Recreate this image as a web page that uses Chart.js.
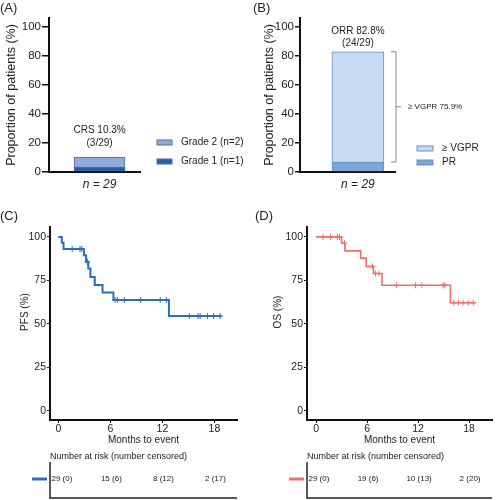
<!DOCTYPE html>
<html lang="en">
<head>
  <meta charset="UTF-8" />
  <title>CRS, response, PFS and OS</title>
  <script src="https://cdn.jsdelivr.net/npm/chart.js"></script>
  <style>
    body {
      margin: 0;
      background: #fff;
      font-family: 'Liberation Sans', Arial, sans-serif;
    }
    .panel {
      position: absolute;
    }
  </style>
</head>
<body>
  <canvas id="chartA" class="panel" style="left:0;top:0" width="248" height="200"></canvas>
  <canvas id="chartB" class="panel" style="left:248px;top:0" width="249" height="200"></canvas>
  <canvas id="chartC" class="panel" style="left:0;top:200px" width="248" height="300"></canvas>
  <canvas id="chartD" class="panel" style="left:248px;top:200px" width="249" height="300"></canvas>

  <script>
    // (A) cytokine release syndrome, stacked from the bottom
    const crsLabels = ['Grade 1 (n=1)', 'Grade 2 (n=2)'];
    const crsValues = [3.4, 6.9];
    const crsColors = ['#2c5ea8', '#8eaad8'];

    // (B) best response, stacked from the bottom
    const respLabels = ['PR', '\u2265 VGPR'];
    const respValues = [6.9, 75.9];
    const respColors = ['#80a6d8', '#c6dcf2'];

    const barTicks = [0, 20, 40, 60, 80, 100];

    // (C) progression-free survival (step points and censor marks)
    const pfsMonths = [0, 0.4, 0.6, 2.95, 3.2, 3.45, 3.7, 4.2, 5.1, 6.35, 12.75, 18.8];
    const pfsSurv = [100, 96.6, 93.1, 89.4, 85.7, 81.8, 77.0, 72.4, 68.0, 63.8, 54.5, 54.5];
    const pfsCensorMonths = [1.6, 2.5, 2.7, 3.35, 6.55, 6.8, 7.6, 9.5, 11.75, 12.45, 15.1, 16.1, 16.35, 17.2, 17.9, 18.65];
    const pfsCensorSurv = [93.1, 93.1, 93.1, 85.7, 63.8, 63.8, 63.8, 63.8, 63.8, 63.8, 54.5, 54.5, 54.5, 54.5, 54.5, 54.5];

    // (D) overall survival
    const osMonths = [0, 3.0, 3.4, 5.25, 5.9, 6.75, 7.75, 15.8, 18.8];
    const osSurv = [100, 96.4, 92.0, 87.8, 83.1, 79.0, 72.2, 62.2, 62.2];
    const osCensorMonths = [0.8, 1.7, 2.5, 2.75, 3.35, 6.6, 7.0, 7.4, 9.45, 11.7, 12.45, 14.95, 15.15, 16.2, 16.75, 17.3, 17.9, 18.5];
    const osCensorSurv = [100, 100, 100, 100, 96.4, 83.1, 79.0, 79.0, 72.2, 72.2, 72.2, 72.2, 72.2, 62.2, 62.2, 62.2, 62.2, 62.2];

    const kmTicksX = [0, 6, 12, 18];
    const kmTicksY = [0, 25, 50, 75, 100];

    // number at risk table
    const riskMonths = [0, 6, 12, 18];
    const pfsAtRisk = [29, 15, 8, 2];
    const pfsCensored = [0, 6, 12, 17];
    const osAtRisk = [29, 19, 10, 2];
    const osCensored = [0, 6, 13, 20];

    const pfsColor = '#2b6fb6';
    const osColor = '#ec6f6c';
    const axisColor = '#111';
    const FONT = "'Liberation Sans', Arial, sans-serif";

    Chart.defaults.font.family = FONT;
    Chart.defaults.color = '#222';

    function text(ctx, str, x, y, size, opts = {}) {
      ctx.save();
      ctx.font = `${opts.style || 'normal'} ${size}px ${FONT}`;
      ctx.fillStyle = opts.color || '#222';
      ctx.textAlign = opts.align || 'left';
      ctx.textBaseline = 'middle';
      if (opts.rotate) {
        ctx.translate(x, y);
        ctx.rotate(opts.rotate);
        ctx.fillText(str, 0, 0);
      } else {
        ctx.fillText(str, x, y);
      }
      ctx.restore();
    }

    function fixedTicks(values) {
      return scale => { scale.ticks = values.map(v => ({ value: v })); };
    }

    // ---------- bar panels ----------
    function barChart(id, labels, values, colors, opt) {
      return new Chart(document.getElementById(id), {
        type: 'bar',
        data: {
          datasets: labels.map((label, i) => ({
            label: label,
            data: [{ x: 0, y: values[i] }],
            backgroundColor: colors[i],
            borderColor: opt.outline,
            borderWidth: 1,
            barThickness: opt.barWidth
          }))
        },
        options: {
          responsive: false,
          animation: false,
          layout: { padding: { top: 18, right: opt.padRight, bottom: 0, left: 0 } },
          plugins: { legend: { display: false }, tooltip: { enabled: false } },
          scales: {
            x: {
              type: 'linear',
              stacked: true,
              offset: false,
              min: -1,
              max: opt.xMax,
              afterBuildTicks: fixedTicks([0]),
              grid: { display: false, drawTicks: false, offset: false },
              border: { color: axisColor, width: 2 },
              ticks: {
                callback: () => 'n = 29',
                font: { size: 12, style: 'italic' },
                padding: 5
              },
              afterFit: s => { s.height = 28; }
            },
            y: {
              stacked: true,
              min: 0,
              max: 106,
              afterBuildTicks: fixedTicks(barTicks),
              grid: { drawOnChartArea: false, tickLength: opt.tickLen, color: axisColor, lineWidth: 1.5 },
              border: { color: axisColor, width: 2 },
              ticks: { padding: 1, font: { size: 11.5 } },
              title: {
                display: true,
                text: 'Proportion of patients (%)',
                font: { size: 12.5 },
                padding: { top: opt.titlePad, bottom: 0 }
              },
              afterFit: s => { s.width = opt.yWidth; }
            }
          }
        },
        plugins: [{
          id: 'barNotes',
          afterDraw(chart) {
            const ctx = chart.ctx;
            const y = chart.scales.y;
            const bar = chart.getDatasetMeta(0).data[0];
            const total = values.reduce((a, b) => a + b, 0);
            const top = y.getPixelForValue(total);
            text(ctx, opt.panel, opt.panelX, 8.5, 13);
            text(ctx, opt.note[0], bar.x, top + opt.noteOffset[0], 10, { align: 'center' });
            text(ctx, opt.note[1], bar.x, top + opt.noteOffset[1], 10, { align: 'center' });

            // legend, top entry is the upper segment
            chart.data.datasets.slice().reverse().forEach((ds, i) => {
              const ly = opt.legendY + i * opt.legendGap;
              ctx.fillStyle = ds.backgroundColor;
              ctx.fillRect(opt.legendX, ly - 2.5, opt.swatchW, 5);
              ctx.strokeStyle = opt.outline;
              ctx.lineWidth = 1;
              ctx.strokeRect(opt.legendX, ly - 2.5, opt.swatchW, 5);
              text(ctx, ds.label, opt.legendX + opt.swatchW + 9, ly, 10);
            });

            if (opt.bracket) {
              const yTop = y.getPixelForValue(total);
              const yBot = y.getPixelForValue(values[0]);
              const bx = opt.bracket;
              ctx.save();
              ctx.strokeStyle = '#888';
              ctx.lineWidth = 1;
              ctx.beginPath();
              ctx.moveTo(bx - 5, yTop); ctx.lineTo(bx, yTop); ctx.lineTo(bx, yBot); ctx.lineTo(bx - 5, yBot);
              const ym = (yTop + yBot) / 2;
              ctx.moveTo(bx, ym); ctx.lineTo(bx + 5, ym);
              ctx.stroke();
              ctx.restore();
              text(ctx, '\u2265 VGPR 75.9%', bx + 12, ym, 8);
            }
          }
        }]
      });
    }

    barChart('chartA', crsLabels, crsValues, crsColors, {
      outline: '#4d6fa3', barWidth: 51, padRight: 108, xMax: 0.8, tickLen: 7,
      yWidth: 49, titlePad: 4.5, panel: '(A)', panelX: 0,
      note: ['CRS 10.3%', '(3/29)'], noteOffset: [-27, -14],
      legendX: 157, legendY: 142.5, legendGap: 19, swatchW: 15
    });

    barChart('chartB', respLabels, respValues, respColors, {
      outline: '#6a8fc2', barWidth: 52, padRight: 102, xMax: 0.64, tickLen: 5,
      yWidth: 52, titlePad: 14.5, panel: '(B)', panelX: 5,
      note: ['ORR 82.8%', '(24/29)'], noteOffset: [-20, -8],
      legendX: 169, legendY: 148.5, legendGap: 14, swatchW: 16,
      bracket: 148
    });

    // ---------- Kaplan-Meier panels ----------
    function kmChart(id, months, surv, cMonths, cSurv, atRisk, censored, opt) {
      return new Chart(document.getElementById(id), {
        type: 'line',
        data: {
          datasets: [
            {
              data: months.map((m, i) => ({ x: m, y: surv[i] })),
              stepped: true,
              borderColor: opt.color,
              borderWidth: opt.lineWidth,
              pointRadius: 0,
              fill: false
            },
            {
              type: 'scatter',
              data: cMonths.map((m, i) => ({ x: m, y: cSurv[i] })),
              pointStyle: 'cross',
              pointRadius: 3,
              borderColor: opt.color,
              borderWidth: 1,
              showLine: false
            }
          ]
        },
        options: {
          responsive: false,
          animation: false,
          layout: { padding: { top: 27, right: opt.padRight, bottom: 50, left: 0 } },
          plugins: { legend: { display: false }, tooltip: { enabled: false } },
          scales: {
            x: {
              type: 'linear',
              min: opt.xMin,
              max: opt.xMax,
              afterBuildTicks: fixedTicks(kmTicksX),
              grid: { drawOnChartArea: false, tickLength: 3, color: axisColor },
              border: { color: axisColor, width: 2 },
              ticks: { padding: 0, font: { size: 10.5 } },
              title: {
                display: true,
                text: 'Months to event',
                font: { size: 10 },
                padding: { top: 0, bottom: 4 }
              },
              afterFit: s => { s.height = 30; }
            },
            y: {
              min: -5.2,
              max: 105.7,
              afterBuildTicks: fixedTicks(kmTicksY),
              grid: { drawOnChartArea: false, tickLength: 3, color: axisColor },
              border: { color: axisColor, width: 2 },
              ticks: { padding: 1, font: { size: 10.5 } },
              afterFit: s => { s.width = opt.yWidth; }
            }
          }
        },
        plugins: [{
          id: 'riskTable',
          afterDraw(chart) {
            const ctx = chart.ctx;
            const area = chart.chartArea;
            const x = chart.scales.x;
            text(ctx, opt.panel, opt.panelX, 16, 13);
            text(ctx, opt.yTitle, opt.yTitleX, 112, 10, { align: 'center', rotate: -Math.PI / 2 });

            text(ctx, 'Number at risk (number censored)', area.left, 257, 9);
            ctx.save();
            ctx.strokeStyle = '#222';
            ctx.lineWidth = 1.5;
            ctx.beginPath();
            ctx.moveTo(area.left, 262); ctx.lineTo(area.left, 298); ctx.lineTo(area.right, 298);
            ctx.stroke();
            ctx.strokeStyle = opt.color;
            ctx.lineWidth = 3;
            ctx.beginPath();
            ctx.moveTo(area.left - 18, 279); ctx.lineTo(area.left - 3, 279);
            ctx.stroke();
            ctx.restore();

            ctx.save();
            ctx.font = `8px ${FONT}`;
            riskMonths.forEach((m, i) => {
              const label = `${atRisk[i]} (${censored[i]})`;
              const half = ctx.measureText(label).width / 2;
              const px = Math.max(x.getPixelForValue(m) + 1, area.left + half + 1.5);
              text(ctx, label, px, 279, 8, { align: 'center' });
            });
            ctx.restore();
          }
        }]
      });
    }

    kmChart('chartC', pfsMonths, pfsSurv, pfsCensorMonths, pfsCensorSurv, pfsAtRisk, pfsCensored, {
      color: pfsColor, lineWidth: 2, padRight: 11, xMin: -0.96, xMax: 20.6, yWidth: 50,
      panel: '(C)', panelX: 0, yTitle: 'PFS (%)', yTitleX: 25
    });

    kmChart('chartD', osMonths, osSurv, osCensorMonths, osCensorSurv, osAtRisk, osCensored, {
      color: osColor, lineWidth: 1.6, padRight: 1, xMin: -1.07, xMax: 20.7, yWidth: 59,
      panel: '(D)', panelX: 7, yTitle: 'OS (%)', yTitleX: 30
    });
  </script>
</body>
</html>
